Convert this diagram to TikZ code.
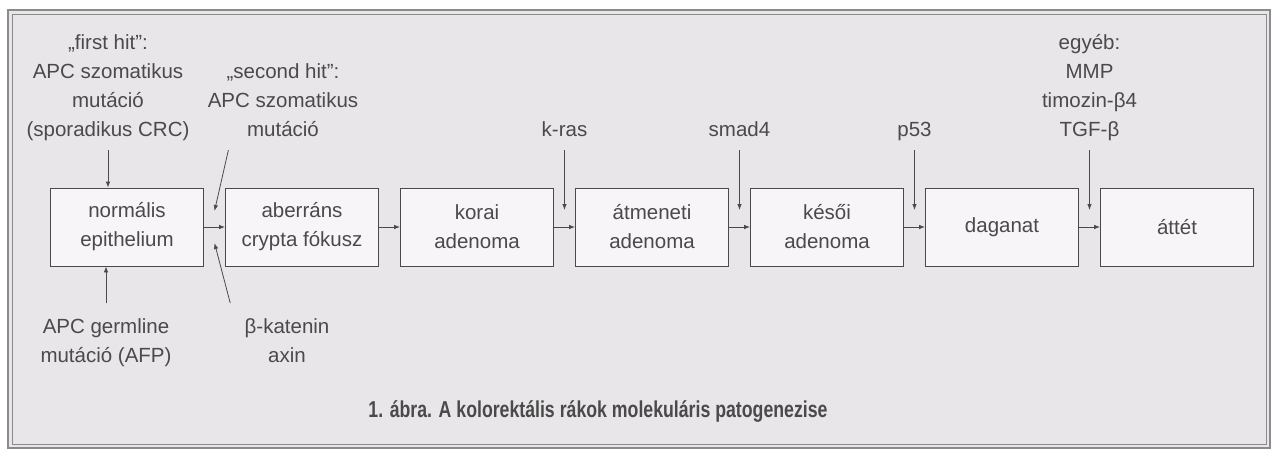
\documentclass[tikz,border=0pt]{standalone}
\usepackage{fontspec}
\setmainfont{Liberation Sans}
\newfontfamily\capfont[FakeStretch=0.77]{Liberation Sans}
\usepackage{xcolor}
\usetikzlibrary{arrows.meta}
\definecolor{ink}{HTML}{4A4A4A}
\definecolor{paper}{HTML}{E9E6E9}
\definecolor{boxfill}{HTML}{F7F5F7}
\definecolor{rim}{HTML}{8C8A8C}

\begin{document}
\begin{tikzpicture}[x=1pt,y=-1pt,-{Latex[length=6pt,width=4.5pt]},ink,line width=0.8pt]
   \useasboundingbox (0,0) rectangle (1277,451);
   \draw[-,draw=rim,line width=2.5pt,fill=paper] (8,10) rectangle (1270,448);
   \draw[-,draw=rim,line width=0.6pt] (12,14) rectangle (1266,444);
   \tikzstyle{main}=[rectangle, minimum width=153pt, minimum height=78pt, draw=ink, fill=boxfill, align=center, text=ink, font=\fontsize{20.5}{29}\selectfont]
   \tikzstyle{lbl}=[align=center, inner sep=0pt, text depth=4pt, text=ink, font=\fontsize{20.5}{29}\selectfont]
   \foreach \word [count=\i] in {{normális\\epithelium},{aberráns\\crypta fókusz},{korai\\adenoma},{átmeneti\\adenoma},{késői\\adenoma},{daganat},{áttét}} {
       \node[main] (b\i) at ({127+(\i-1)*175},227) {\word};
   }
   \coordinate (top) at (0,141);
   \foreach \i [evaluate=\i as \j using int(\i+1)] in {1,...,6} {
       \path (b\i) edge (b\j);
       \coordinate (m\i) at ({214.5+(\i-1)*175},227);
   }
   \node[lbl,anchor=south] (firsthit) at (108,141) {„first hit":\\APC szomatikus\\mutáció\\(sporadikus CRC)};
   \path (firsthit) edge[shorten <=9pt] (firsthit |- b1.north);
   \node[lbl,anchor=north] (germline) at (106,318) {APC germline\\mutáció (AFP)};
   \path (germline) edge[shorten <=15pt] (germline |- b1.south);
   \node[lbl,anchor=south] (secondhit) at (283,141) {„second hit":\\APC szomatikus\\mutáció};
   \path ([shift={(21pt,-9pt)}]secondhit.south west) edge ([yshift=16pt]m1);
   \node[lbl,anchor=north] (katenin) at (287,318) {β-katenin\\axin};
   \path ([shift={(-14pt,15pt)}]katenin.north west) edge ([yshift=-16pt]m1);
   \foreach \i/\gene in {3/{k-ras},4/{smad4},5/{p53},6/{egyéb:\\MMP\\timozin-β4\\TGF-β}} {
       \node[lbl,anchor=south] (g\i) at (m\i |- top) {\gene};
       \path (g\i) edge[shorten <=9pt] ([yshift=17pt]m\i);
   }
   \node[text=ink,font=\fontsize{23}{28}\capfont\bfseries\selectfont] (caption) at (598,411) {1. ábra. A kolorektális rákok molekuláris patogenezise};
\end{tikzpicture}
\end{document}
